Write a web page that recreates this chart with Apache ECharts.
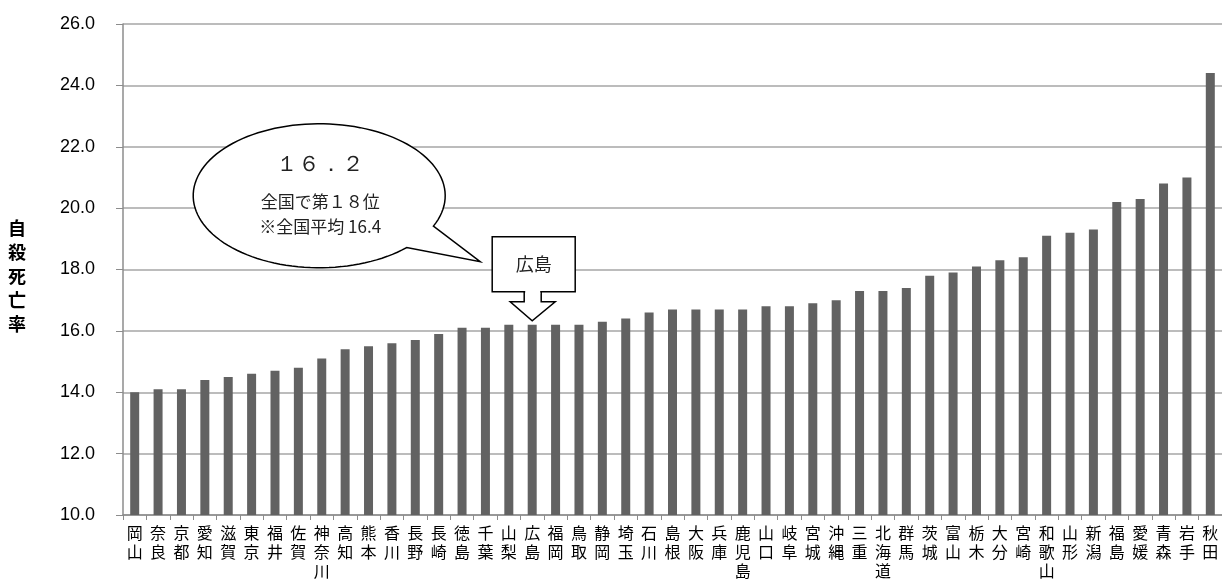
<!DOCTYPE html>
<html>
<head>
<meta charset="utf-8">
<script src="https://cdn.jsdelivr.net/npm/echarts@6/dist/echarts.min.js"></script>
<style>
  html, body { margin: 0; padding: 0; background: #fff; }
  #main { width: 1222px; height: 581px; }
</style>
</head>
<body>
<div id="main"></div>
<script>
// 都道府県（自殺死亡率の低い順）
const prefectures = [
  "岡山", "奈良", "京都", "愛知", "滋賀", "東京", "福井", "佐賀", "神奈川", "高知",
  "熊本", "香川", "長野", "長崎", "徳島", "千葉", "山梨", "広島", "福岡", "鳥取",
  "静岡", "埼玉", "石川", "島根", "大阪", "兵庫", "鹿児島", "山口", "岐阜", "宮城",
  "沖縄", "三重", "北海道", "群馬", "茨城", "富山", "栃木", "大分", "宮崎", "和歌山",
  "山形", "新潟", "福島", "愛媛", "青森", "岩手", "秋田"
];
const rates = [
  14.0, 14.1, 14.1, 14.4, 14.5, 14.6, 14.7, 14.8, 15.1, 15.4,
  15.5, 15.6, 15.7, 15.9, 16.1, 16.1, 16.2, 16.2, 16.2, 16.2,
  16.3, 16.4, 16.6, 16.7, 16.7, 16.7, 16.7, 16.8, 16.8, 16.9,
  17.0, 17.3, 17.3, 17.4, 17.8, 17.9, 18.1, 18.3, 18.4, 19.1,
  19.2, 19.3, 20.2, 20.3, 20.8, 21.0, 24.4
];
const yMin = 10, yMax = 26, yStep = 2;
const axisTitle = "自殺死亡率";
const highlight = "広島";
const calloutLines = ["１６．２", "全国で第１８位", "※全国平均 16.4"];

const chart = echarts.init(document.getElementById("main"));

const option = {
  animation: false,
  grid: { left: 123, right: 0, top: 24, bottom: 66, containLabel: false },
  xAxis: {
    type: "category",
    data: prefectures,
    axisLine: { lineStyle: { color: "#8c8c8c", width: 1.5 } },
    axisTick: { show: true, length: 5, lineStyle: { color: "#8c8c8c" } },
    axisLabel: {
      interval: 0,
      margin: 8,
      color: "#000",
      fontSize: 16,
      lineHeight: 19,
      fontFamily: "Noto Sans CJK JP",
      formatter: v => v.split("").join("\n")
    }
  },
  yAxis: {
    type: "value",
    min: yMin,
    max: yMax,
    interval: yStep,
    axisLine: { show: true, lineStyle: { color: "#8c8c8c", width: 1.5 } },
    axisTick: { show: true, inside: false, length: 7, lineStyle: { color: "#8c8c8c" } },
    splitLine: { lineStyle: { color: "#a6a6a6", width: 1.5 } },
    axisLabel: {
      margin: 28,
      color: "#000",
      fontSize: 18,
      fontFamily: "Liberation Sans",
      formatter: v => v.toFixed(1)
    }
  },
  series: [{
    type: "bar",
    data: rates,
    barWidth: 9,
    itemStyle: { color: "#626262" }
  }]
};
chart.setOption(option);

// 注釈（吹き出しと矢印）は広島の棒の位置から組み立てる
const hi = prefectures.indexOf(highlight);
const p = chart.convertToPixel({ seriesIndex: 0 }, [hi, rates[hi]]);
const ax = p[0], ay = p[1];

// 吹き出しの楕円＋しっぽ
const ecx = ax - 213, ecy = ay - 129, erx = 126, ery = 72;
const a0 = 25 * Math.PI / 180, a1 = (46 - 360) * Math.PI / 180;
const bubble = [];
for (let i = 0; i <= 120; i++) {
  const t = a0 + (a1 - a0) * i / 120;
  bubble.push([ecx + erx * Math.cos(t), ecy + ery * Math.sin(t)]);
}
bubble.push([ax - 52, ay - 63]);

const boxL = ax - 40, boxT = ay - 88, boxW = 83, boxH = 55;
const arrow = [
  [ax - 8, boxT + boxH], [ax - 8, ay - 23], [ax - 22, ay - 23], [ax, ay - 4],
  [ax + 23, ay - 23], [ax + 9, ay - 23], [ax + 9, boxT + boxH]
];

chart.setOption({
  graphic: [
    {
      type: "text",
      left: 8,
      top: 216,
      style: {
        text: axisTitle.split("").join("\n"),
        fontSize: 18,
        lineHeight: 24,
        fontWeight: "bold",
        fontFamily: "Noto Sans CJK JP",
        fill: "#000"
      }
    },
    {
      type: "polygon",
      shape: { points: bubble },
      style: { fill: "#fff", stroke: "#000", lineWidth: 1.5 },
      z: 10
    },
    {
      type: "text",
      x: ecx + 1, y: ecy - 30,
      style: {
        text: calloutLines[0], fontSize: 22, fontFamily: "DejaVu Serif",
        fill: "#222", align: "center", verticalAlign: "middle"
      },
      z: 11
    },
    {
      type: "text",
      x: ecx + 1, y: ecy + 6,
      style: {
        text: calloutLines[1], fontSize: 17, fontFamily: "Noto Sans CJK JP",
        fill: "#222", align: "center", verticalAlign: "middle"
      },
      z: 11
    },
    {
      type: "text",
      x: ecx + 1, y: ecy + 31,
      style: {
        text: calloutLines[2], fontSize: 17, fontFamily: "Noto Sans CJK JP",
        fill: "#222", align: "center", verticalAlign: "middle"
      },
      z: 11
    },
    {
      type: "rect",
      shape: { x: boxL, y: boxT, width: boxW, height: boxH },
      style: { fill: "#fff", stroke: "#000", lineWidth: 1.5 },
      z: 10
    },
    {
      type: "polygon",
      shape: { points: arrow },
      style: { fill: "#fff", stroke: "#000", lineWidth: 1.5 },
      z: 10
    },
    {
      type: "rect",
      shape: { x: ax - 7, y: boxT + boxH - 2, width: 15, height: 4 },
      style: { fill: "#fff" },
      z: 12
    },
    {
      type: "text",
      x: boxL + boxW / 2, y: boxT + boxH / 2,
      style: {
        text: highlight, fontSize: 18, fontFamily: "Noto Sans CJK JP",
        fill: "#222", align: "center", verticalAlign: "middle"
      },
      z: 11
    }
  ]
});
</script>
</body>
</html>
